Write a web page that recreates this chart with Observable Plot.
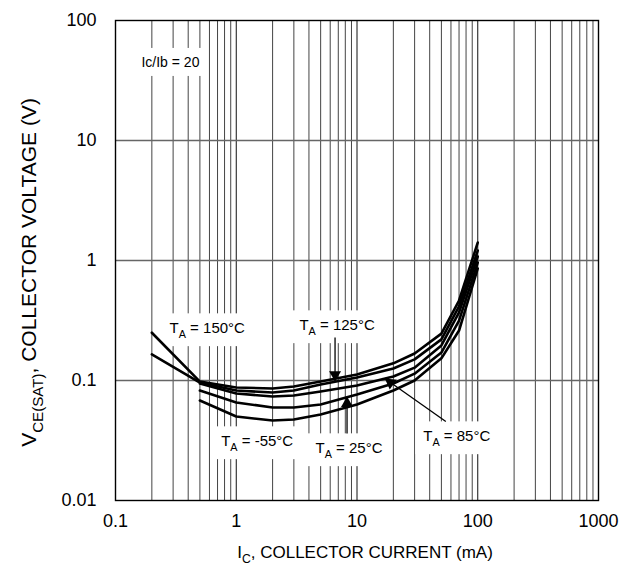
<!DOCTYPE html>
<html><head><meta charset="utf-8">
<script src="https://cdn.jsdelivr.net/npm/d3@7"></script>
<script src="https://cdn.jsdelivr.net/npm/@observablehq/plot@0.6"></script>
<style>
html,body{margin:0;padding:0;background:#fff;}
</style>
</head><body><div id="chart"></div>
<script>
// Axis ticks
const xTicks = [0.1, 1, 10, 100, 1000];
const yTicks = [0.01, 0.1, 1, 10, 100];
const xDecades = [1, 10, 100];
const yDecades = [0.1, 1, 10];
const xMinor = [0.1, 1, 10, 100].flatMap(d => [2,3,4,5,6,7,8,9].map(k => k * d));

// Collector current (mA)
const icLong = [0.2, 0.5, 1, 2, 3, 5, 10, 20, 30, 50, 70, 100];
const icShort = [0.5, 1, 2, 3, 5, 10, 20, 30, 50, 70, 100];
// VCE(SAT) (V)
const v150 = [0.25, 0.098, 0.0875, 0.0858, 0.0891, 0.098, 0.112, 0.139, 0.168, 0.246, 0.464, 1.41];
const v125 = [0.165, 0.0962, 0.0825, 0.0794, 0.0825, 0.0926, 0.106, 0.126, 0.150, 0.220, 0.414, 1.21];
const v85  = [0.0944, 0.078, 0.0735, 0.075, 0.081, 0.0909, 0.108, 0.128, 0.196, 0.369, 1.08];
const v25  = [0.0825, 0.0656, 0.0596, 0.0596, 0.0631, 0.0764, 0.0944, 0.114, 0.171, 0.316, 0.962];
const vM55 = [0.0681, 0.0501, 0.0464, 0.0473, 0.0521, 0.0631, 0.0825, 0.100, 0.153, 0.261, 0.858];

// Annotations
const labelText = ["T_{A} = 150°C", "T_{A} = 125°C", "T_{A} = -55°C", "T_{A} = 25°C", "T_{A} = 85°C"];
const labelIc = [0.575, 6.84, 1.49, 8.59, 67];
const labelV = [0.271, 0.287, 0.031, 0.0271, 0.0341];
const noteText = ["Ic/Ib = 20"];
const noteIc = [0.285];
const noteV = [44.7];
const arrowFromIc = [6.58, 8.27, 54.4];
const arrowFromV = [0.228, 0.0362, 0.0455];
const arrowToIc = [6.58, 8.27, 17.0];
const arrowToV = [0.098, 0.0735, 0.104];

const series = [
  {t: "150", ic: icLong, v: v150},
  {t: "125", ic: icLong, v: v125},
  {t: "85", ic: icShort, v: v85},
  {t: "25", ic: icShort, v: v25},
  {t: "-55", ic: icShort, v: vM55}
];
const rows = series.flatMap(s => s.ic.map((ic, i) => ({t: s.t, ic, v: s.v[i]})));
const labels = labelText.map((text, i) => ({text, ic: labelIc[i], v: labelV[i]}));
const notes = noteText.map((text, i) => ({text, ic: noteIc[i], v: noteV[i]}));
const arrows = arrowFromIc.map((d, i) => ({x1: d, y1: arrowFromV[i], x2: arrowToIc[i], y2: arrowToV[i]}));

const font = "Liberation Sans, Arial, Helvetica, sans-serif";
const headR = 4.46, headOff = 6.93;

const plot = Plot.plot({
  width: 624,
  height: 566,
  marginLeft: 115,
  marginRight: 26,
  marginTop: 20,
  marginBottom: 66,
  style: {fontFamily: font, fontSize: "17px", color: "black", background: "white"},
  x: {type: "log", domain: [0.1, 1000]},
  y: {type: "log", domain: [0.01, 100]},
  marks: [
    Plot.ruleX(xMinor, {stroke: "#444", strokeWidth: 1}),
    Plot.ruleX(xDecades, {stroke: "#111", strokeWidth: 1}),
    Plot.ruleY(yDecades, {stroke: "#666", strokeWidth: 1.3}),
    Plot.frame({stroke: "black", strokeWidth: 1.4}),
    Plot.axisX(xTicks, {tickSize: 0, tickPadding: 14, tickFormat: d => String(d), fontSize: 18, label: null}),
    Plot.axisY(yTicks, {tickSize: 0, tickPadding: 19, tickFormat: d => String(d), fontSize: 18, label: null}),
    Plot.line(rows, {x: "ic", y: "v", z: "t", stroke: "black", strokeWidth: 2.6, strokeLinejoin: "round"}),
    Plot.link(arrows, {x1: "x1", y1: "y1", x2: "x2", y2: "y2", stroke: "black", strokeWidth: 1.3}),
    Plot.dot([arrows[0]], {x: "x2", y: "y2", symbol: "triangle", r: headR, fill: "black", rotate: 180, dy: -headOff}),
    Plot.dot([arrows[1]], {x: "x2", y: "y2", symbol: "triangle", r: headR, fill: "black", rotate: 0, dy: headOff}),
    Plot.dot([arrows[2]], {x: "x2", y: "y2", symbol: "triangle", r: headR, fill: "black", rotate: -54, dx: 5.62, dy: 4.05}),
    Plot.text(labels, {x: "ic", y: "v", text: "text", fontSize: 15, fill: "black"}),
    Plot.text(notes, {x: "ic", y: "v", text: "text", fontSize: 14, fill: "black"}),
    Plot.text(["I_{C}, COLLECTOR CURRENT (mA)"], {frameAnchor: "bottom", textAnchor: "middle", lineAnchor: "middle", dx: 8, dy: 52, fontSize: 17, fill: "black"}),
    Plot.text(["V_{CE(SAT)}, COLLECTOR VOLTAGE (V)"], {frameAnchor: "left", textAnchor: "middle", lineAnchor: "middle", dx: -86, dy: 12, rotate: -90, fontSize: 21, fill: "black"})
  ]
});
document.getElementById("chart").appendChild(plot);

const NS = "http://www.w3.org/2000/svg";
const annoSet = new Set([...labelText, ...noteText]);
const annoEls = [...plot.querySelectorAll("text")].filter(t => annoSet.has(t.textContent));

// Subscripts
plot.querySelectorAll("text").forEach(t => {
  const s = t.textContent;
  if (!s.includes("_{")) return;
  const fs = parseFloat(getComputedStyle(t).fontSize);
  t.textContent = "";
  let shift = 0;
  const add = (str, sub) => {
    const ts = document.createElementNS(NS, "tspan");
    ts.textContent = str;
    const target = sub ? fs * 0.32 : 0;
    const d = target - shift;
    if (d) ts.setAttribute("dy", d);
    shift = target;
    if (sub) ts.setAttribute("font-size", fs * 0.72);
    t.appendChild(ts);
  };
  const re = /_\{([^}]*)\}/g;
  let last = 0, m;
  while ((m = re.exec(s))) {
    if (m.index > last) add(s.slice(last, m.index), false);
    add(m[1], true);
    last = re.lastIndex;
  }
  if (last < s.length) add(s.slice(last), false);
});

// White boxes behind annotations, placed beneath the curves
const svgBox = plot.getBoundingClientRect();
const boxG = document.createElementNS(NS, "g");
annoEls.forEach(t => {
  const b = t.getBoundingClientRect();
  const padX = 8, padY = 6;
  const r = document.createElementNS(NS, "rect");
  r.setAttribute("x", b.left - svgBox.left - padX);
  r.setAttribute("y", b.top - svgBox.top - padY);
  r.setAttribute("width", b.width + 2 * padX);
  r.setAttribute("height", b.height + 2 * padY);
  r.setAttribute("fill", "white");
  boxG.appendChild(r);
});
const curvesG = plot.querySelector('g[aria-label="line"]');
if (curvesG) curvesG.parentNode.insertBefore(boxG, curvesG);
else plot.appendChild(boxG);
</script>
</body></html>
